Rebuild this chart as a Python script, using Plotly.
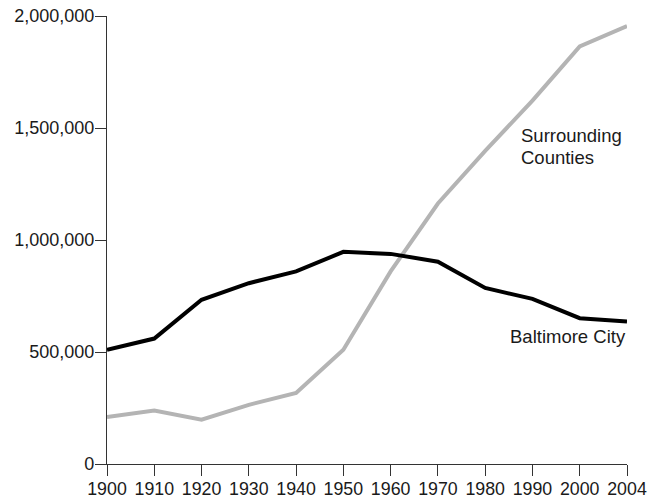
import plotly.graph_objects as go

years = ["1900", "1910", "1920", "1930", "1940", "1950", "1960",
         "1970", "1980", "1990", "2000", "2004"]
baltimore_city = [510000, 560000, 733000, 807000, 860000, 947000, 938000,
                  903000, 786000, 737000, 651000, 636000]
surrounding_counties = [210000, 239000, 198000, 264000, 317000, 510000, 860000,
                        1163000, 1398000, 1622000, 1864000, 1955000]
y_tick_vals = [0, 500000, 1000000, 1500000, 2000000]
y_tick_text = ["0", "500,000", "1,000,000", "1,500,000", "2,000,000"]

FONT = "Liberation Sans, Arial, Helvetica, sans-serif"
TXT = "#1a1a1a"

fig = go.Figure()
fig.add_trace(go.Scatter(x=years, y=surrounding_counties, mode="lines",
                         line=dict(color="#b4b4b4", width=4),
                         name="Surrounding Counties", hoverinfo="x+y"))
fig.add_trace(go.Scatter(x=years, y=baltimore_city, mode="lines",
                         line=dict(color="#000000", width=4),
                         name="Baltimore City", hoverinfo="x+y"))

# page body adds an 8px offset, so the figure is sized/placed to compensate
fig.update_layout(
    width=655, height=490,
    margin=dict(l=99, r=36, t=8, b=34, pad=0, autoexpand=False),
    paper_bgcolor="white", plot_bgcolor="white",
    showlegend=False,
    font=dict(family=FONT, size=18, color=TXT),
    xaxis=dict(type="category", range=[0, len(years) - 1],
               showgrid=False, zeroline=False, automargin=False,
               showline=True, linecolor="#333333", linewidth=1.3,
               ticks="outside", ticklen=11, tickwidth=1.3, tickcolor="#333333",
               ticklabelstandoff=-3, ticklabeloverflow="allow",
               tickfont=dict(family=FONT, size=17.8, color=TXT),
               fixedrange=True),
    yaxis=dict(range=[0, 2000000], tickvals=y_tick_vals, ticktext=y_tick_text,
               showgrid=False, zeroline=False, automargin=False,
               showline=True, linecolor="#333333", linewidth=1.3,
               ticks="outside", ticklen=11, tickwidth=1.3, tickcolor="#333333",
               ticklabelstandoff=-3, ticklabeloverflow="allow",
               tickfont=dict(family=FONT, size=18, color=TXT),
               fixedrange=True),
    annotations=[
        dict(text="Surrounding", xref="paper", yref="paper",
             x=0.7915, y=0.7607, xanchor="left", yanchor="top", align="left",
             showarrow=False, font=dict(family=FONT, size=18.5, color=TXT)),
        dict(text="Counties", xref="paper", yref="paper",
             x=0.7915, y=0.7122, xanchor="left", yanchor="top", align="left",
             showarrow=False, font=dict(family=FONT, size=18.5, color=TXT)),
        dict(text="Baltimore City", xref="paper", yref="paper",
             x=1.002, y=0.313, xanchor="right", yanchor="top", align="right",
             showarrow=False, font=dict(family=FONT, size=18.5, color=TXT)),
    ],
)

fig.write_html("out.html")
